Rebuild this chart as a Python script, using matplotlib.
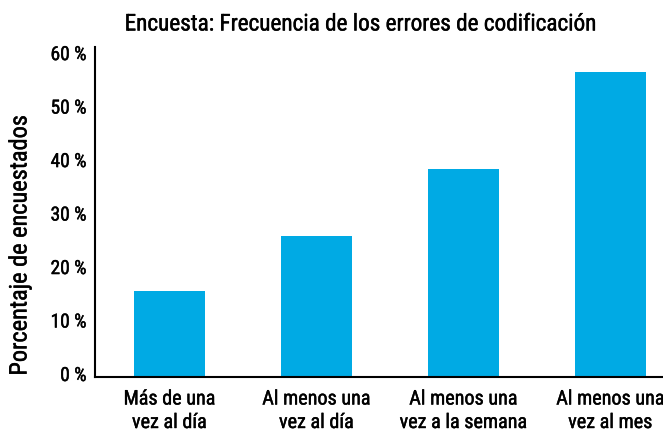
import matplotlib
matplotlib.use('Agg')
import matplotlib.pyplot as plt
import matplotlib.transforms as mtransforms
import matplotlib.patheffects as pe

plt.rcParams['font.family'] = ['Roboto Condensed', 'DejaVu Sans']

categories = ['Más de una\nvez al día', 'Al menos una\nvez al día',
              'Al menos una\nvez a la semana', 'Al menos una\nvez al mes']
percentages = [16, 26.3, 38.9, 57]
yticks = [0, 10, 20, 30, 40, 50, 60]
title = 'Encuesta: Frecuencia de los errores de codificación'
ylabel = 'Porcentaje de encuestados'

# slightly heavier than regular, like the reference
thick = [pe.withStroke(linewidth=0.3, foreground='black')]

W, H = 663, 436
fig = plt.figure(figsize=(W / 100, H / 100), dpi=100)
ax = fig.add_axes([95 / W, 1 - 377 / H, 568 / W, 330 / H])

x = range(len(categories))
ax.bar(x, percentages, width=0.48, color='#00AAE4')

ax.set_xlim(-0.505, -0.505 + 568 / 147)
ax.set_ylim(0, 61.7)
ax.set_yticks(yticks)
ax.set_yticklabels([f'{v} %' for v in yticks], fontsize=14, path_effects=thick)
ax.set_xticks(list(x))
ax.set_xticklabels(categories, fontsize=14.5, linespacing=1.3, path_effects=thick)
ax.tick_params(axis='both', length=0)
ax.tick_params(axis='x', pad=9)
ax.tick_params(axis='y', pad=6)

# nudge y labels a little upward like the reference
off = mtransforms.ScaledTranslation(0, 3 / 100, fig.dpi_scale_trans)
for lbl in ax.get_yticklabels():
    lbl.set_transform(lbl.get_transform() + off)

for s in ['top', 'right']:
    ax.spines[s].set_visible(False)
for s in ['left', 'bottom']:
    ax.spines[s].set_linewidth(1.5)
    ax.spines[s].set_color('black')

fig.text(360 / W, 1 - 24 / H, title, fontsize=16.7, path_effects=thick,
         ha='center', va='center')
fig.text(20 / W, 1 - 246 / H, ylabel, fontsize=17.5, path_effects=thick,
         rotation=90, ha='center', va='center')

fig.savefig('out.png', dpi=100)
